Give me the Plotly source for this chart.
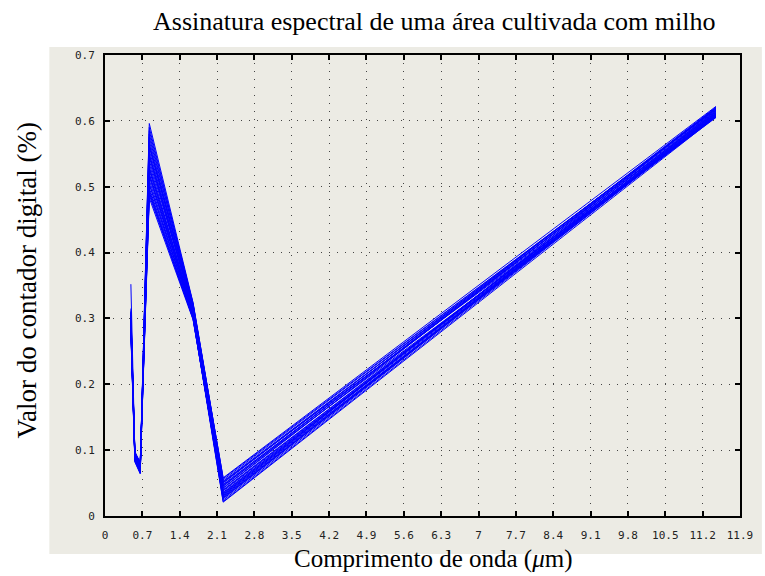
import plotly.graph_objects as go

# Landsat TM band centres (µm), ordered by wavelength
wavelengths = [0.485, 0.56, 0.66, 0.83, 1.65, 2.215, 11.45]

# Digital counter values per pixel sample (one list per sample, one value per band)
pixel_01 = [0.352, 0.092, 0.072, 0.596, 0.324, 0.055, 0.618]
pixel_02 = [0.305, 0.085, 0.066, 0.560, 0.318, 0.048, 0.612]
pixel_03 = [0.290, 0.088, 0.070, 0.540, 0.315, 0.042, 0.620]
pixel_04 = [0.300, 0.095, 0.078, 0.520, 0.308, 0.038, 0.608]
pixel_05 = [0.285, 0.090, 0.074, 0.505, 0.305, 0.035, 0.615]
pixel_06 = [0.310, 0.098, 0.080, 0.490, 0.300, 0.030, 0.610]
pixel_07 = [0.295, 0.086, 0.068, 0.575, 0.322, 0.052, 0.606]
pixel_08 = [0.280, 0.083, 0.065, 0.550, 0.316, 0.045, 0.621]
pixel_09 = [0.298, 0.092, 0.076, 0.530, 0.311, 0.026, 0.614]
pixel_10 = [0.308, 0.094, 0.079, 0.515, 0.306, 0.022, 0.609]
pixel_11 = [0.288, 0.087, 0.071, 0.483, 0.298, 0.033, 0.616]
pixel_12 = [0.302, 0.091, 0.073, 0.565, 0.320, 0.050, 0.619]
pixel_13 = [0.293, 0.089, 0.069, 0.545, 0.313, 0.040, 0.611]
pixel_14 = [0.312, 0.096, 0.082, 0.498, 0.302, 0.028, 0.607]
pixel_15 = [0.284, 0.084, 0.067, 0.585, 0.323, 0.057, 0.617]
pixel_16 = [0.296, 0.088, 0.070, 0.590, 0.321, 0.053, 0.613]
pixel_17 = [0.306, 0.093, 0.077, 0.570, 0.317, 0.046, 0.605]
pixel_18 = [0.282, 0.086, 0.066, 0.555, 0.314, 0.043, 0.618]
pixel_19 = [0.315, 0.097, 0.081, 0.535, 0.309, 0.036, 0.610]
pixel_20 = [0.291, 0.090, 0.073, 0.525, 0.307, 0.031, 0.620]
pixel_21 = [0.276, 0.082, 0.064, 0.510, 0.303, 0.024, 0.612]
pixel_22 = [0.303, 0.094, 0.078, 0.495, 0.299, 0.029, 0.608]
pixel_23 = [0.289, 0.087, 0.069, 0.580, 0.319, 0.058, 0.622]
pixel_24 = [0.299, 0.091, 0.075, 0.487, 0.301, 0.021, 0.606]
pixel_25 = [0.309, 0.095, 0.080, 0.548, 0.312, 0.047, 0.616]
pixel_26 = [0.286, 0.085, 0.067, 0.528, 0.310, 0.039, 0.611]
pixel_27 = [0.297, 0.092, 0.074, 0.563, 0.316, 0.051, 0.619]
pixel_28 = [0.281, 0.084, 0.066, 0.503, 0.304, 0.034, 0.609]
pixel_29 = [0.304, 0.093, 0.077, 0.518, 0.306, 0.027, 0.614]
pixel_30 = [0.292, 0.089, 0.071, 0.492, 0.300, 0.032, 0.607]

samples = [pixel_01, pixel_02, pixel_03, pixel_04, pixel_05, pixel_06, pixel_07,
           pixel_08, pixel_09, pixel_10, pixel_11, pixel_12, pixel_13, pixel_14,
           pixel_15, pixel_16, pixel_17, pixel_18, pixel_19, pixel_20, pixel_21,
           pixel_22, pixel_23, pixel_24, pixel_25, pixel_26, pixel_27, pixel_28,
           pixel_29, pixel_30]

x_ticks = [0, 0.7, 1.4, 2.1, 2.8, 3.5, 4.2, 4.9, 5.6, 6.3, 7, 7.7, 8.4, 9.1,
           9.8, 10.5, 11.2, 11.9]
x_tick_text = ["0", "0.7", "1.4", "2.1", "2.8", "3.5", "4.2", "4.9", "5.6", "6.3",
               "7", "7.7", "8.4", "9.1", "9.8", "10.5", "11.2", "11.9"]
y_ticks = [0, 0.1, 0.2, 0.3, 0.4, 0.5, 0.6, 0.7]
y_tick_text = ["0", "0.1", "0.2", "0.3", "0.4", "0.5", "0.6", "0.7"]

fig = go.Figure()
for s in samples:
    fig.add_trace(go.Scatter(x=wavelengths, y=s, mode="lines",
                             line=dict(color="#0000ff", width=1),
                             showlegend=False, hoverinfo="skip"))

panel = "#ecebe4"
tick_font = dict(family="DejaVu Sans Mono", size=11, color="#222222")
label_font = dict(family="Liberation Serif", size=25, color="#000000")

axis_common = dict(
    showline=True, linecolor="black", linewidth=2, mirror="allticks",
    ticks="inside", ticklen=5, tickwidth=2, tickcolor="black",
    showgrid=True, gridcolor="#444444", gridwidth=1, griddash="1px,7px",
    zeroline=False, tickfont=tick_font,
)

fig.update_xaxes(range=[0, 11.9], tickvals=x_ticks, ticktext=x_tick_text,
                 ticklabelstandoff=8, **axis_common)
fig.update_yaxes(range=[0, 0.7], tickvals=y_ticks, ticktext=y_tick_text,
                 ticklabelstandoff=6, **axis_common)

W, H = 765, 576
L, R, T, B = 105, 21, 55, 60
pw, ph = W - L - R, H - T - B

def px_x(p):
    return (p - L) / pw

def px_y(p):
    return (H - B - p) / ph

fig.add_shape(type="rect", xref="paper", yref="paper",
              x0=px_x(49), x1=px_x(766), y0=px_y(554), y1=px_y(47),
              fillcolor=panel, line=dict(width=0), layer="below")

fig.add_annotation(text="Assinatura espectral de uma área cultivada com milho",
                   xref="paper", yref="paper", x=px_x(436), y=px_y(22),
                   showarrow=False, font=dict(label_font, size=26),
                   xanchor="center", yanchor="middle")
fig.add_annotation(text="Comprimento de onda (<i>μ</i>m)",
                   xref="paper", yref="paper", x=px_x(436), y=px_y(575),
                   showarrow=False, font=dict(label_font, size=25),
                   xanchor="center", yanchor="bottom")
fig.add_annotation(text="Valor do contador digital (%)",
                   xref="paper", yref="paper", x=px_x(27), y=px_y(280),
                   showarrow=False, font=dict(label_font, size=27), textangle=-90,
                   xanchor="center", yanchor="middle")

fig.update_layout(width=W, height=H,
                  margin=dict(l=L, r=R, t=T, b=B),
                  paper_bgcolor="white", plot_bgcolor=panel)

fig.write_html("out.html")
